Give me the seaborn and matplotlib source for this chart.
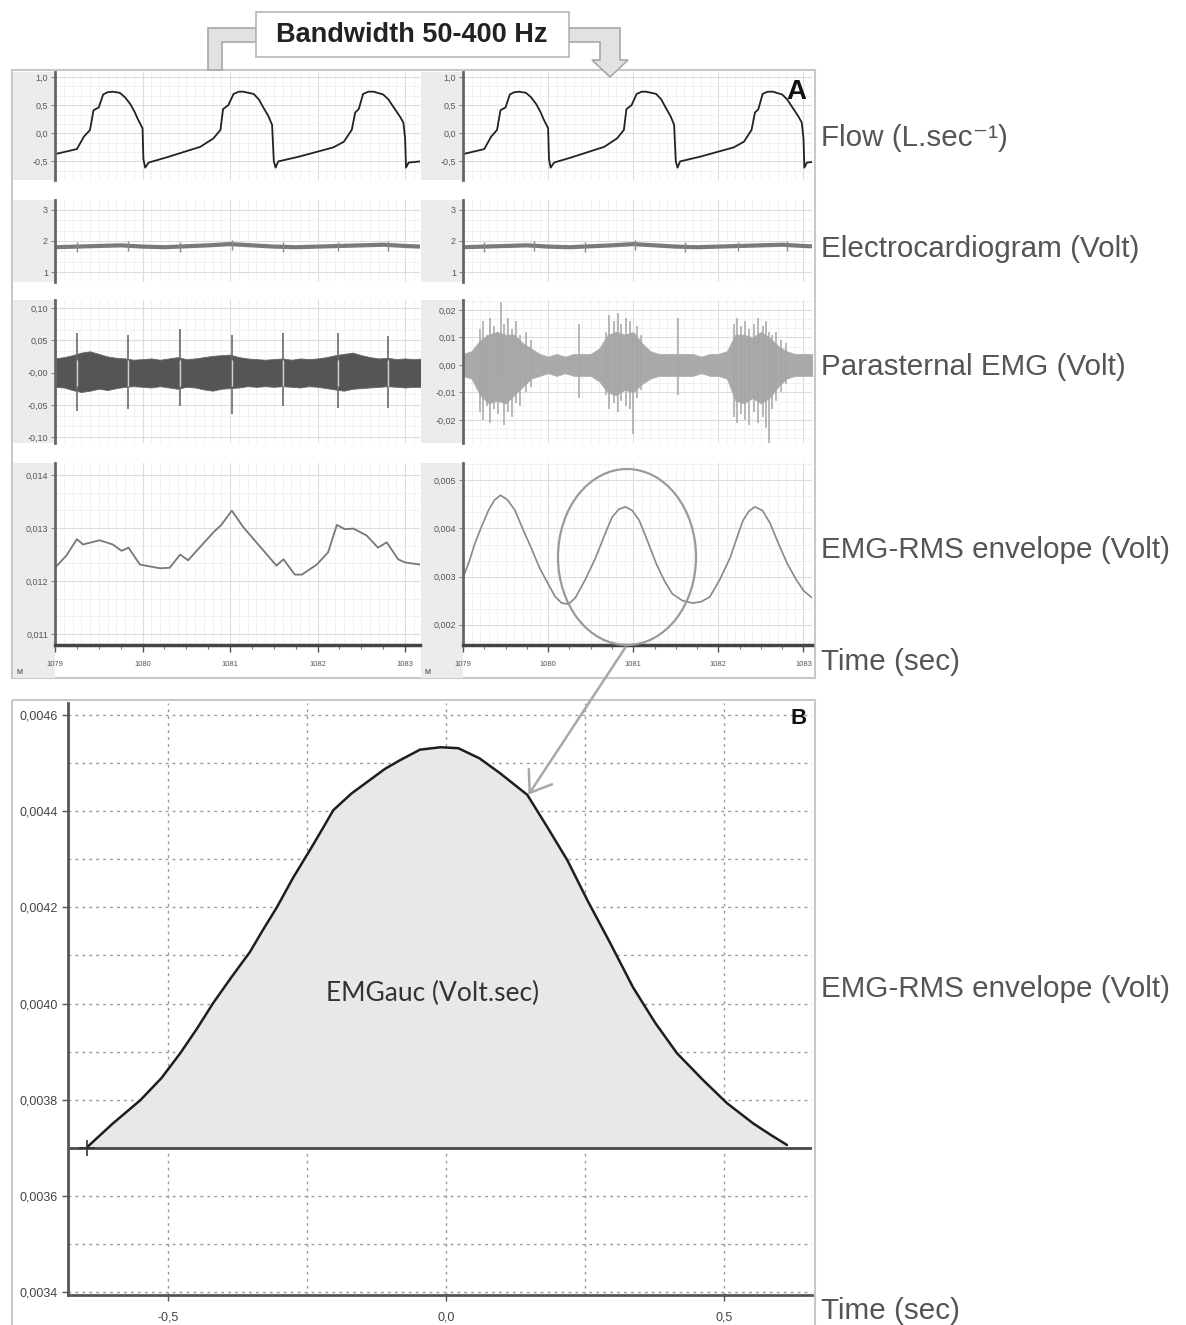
import numpy as np
import matplotlib
matplotlib.use("Agg")
import matplotlib.pyplot as plt
import seaborn as sns
from matplotlib.patches import Rectangle, Polygon, Ellipse, FancyArrowPatch
from matplotlib.ticker import MultipleLocator, AutoMinorLocator, FuncFormatter

# ---- data ----
# flow trace (same signal in both columns)
flow_t = [1079.00, 1079.25, 1079.33, 1079.40, 1079.44, 1079.50, 1079.55, 1079.60, 1079.66, 1079.74,
          1079.80, 1079.86, 1079.91, 1079.95, 1080.00, 1080.01, 1080.03, 1080.07, 1080.27, 1080.66,
          1080.81, 1080.89, 1080.92, 1080.98, 1081.04, 1081.10, 1081.15, 1081.27, 1081.33, 1081.38,
          1081.44, 1081.48, 1081.50, 1081.52, 1081.55, 1081.80, 1082.18, 1082.30, 1082.39, 1082.43,
          1082.47, 1082.52, 1082.58, 1082.64, 1082.75, 1082.81, 1082.87, 1082.94, 1082.98, 1083.00,
          1083.01, 1083.04, 1083.17]
flow_v = [-0.37, -0.28, -0.06, 0.06, 0.41, 0.46, 0.69, 0.73, 0.74, 0.72,
          0.64, 0.52, 0.38, 0.24, 0.09, -0.46, -0.61, -0.52, -0.43, -0.24,
          -0.09, 0.06, 0.43, 0.50, 0.70, 0.74, 0.74, 0.70, 0.60, 0.46,
          0.30, 0.15, -0.50, -0.61, -0.50, -0.41, -0.25, -0.15, 0.06, 0.37,
          0.43, 0.70, 0.74, 0.74, 0.69, 0.60, 0.46, 0.30, 0.19, -0.09,
          -0.61, -0.52, -0.50]

# ECG baseline and beats
ecg_t = [1079.00, 1079.25, 1079.50, 1079.75, 1080.00, 1080.25, 1080.50, 1080.75, 1081.00,
         1081.25, 1081.50, 1081.75, 1082.00, 1082.25, 1082.50, 1082.75, 1083.00, 1083.17]
ecg_v = [1.80, 1.82, 1.84, 1.86, 1.82, 1.80, 1.83, 1.86, 1.90,
         1.86, 1.82, 1.80, 1.82, 1.84, 1.86, 1.88, 1.84, 1.82]
beat_t = [1079.25, 1079.83, 1080.43, 1081.02, 1081.61, 1082.23, 1082.81]
ecg_beat_hi = [1.97, 1.99, 1.96, 2.02, 1.96, 1.97, 1.99]
ecg_beat_lo = [1.66, 1.68, 1.66, 1.70, 1.66, 1.67, 1.69]

# parasternal EMG envelopes every 0.1 s
emg_t = [1079.0, 1079.1, 1079.2, 1079.3, 1079.4, 1079.5, 1079.6, 1079.7, 1079.8, 1079.9,
         1080.0, 1080.1, 1080.2, 1080.3, 1080.4, 1080.5, 1080.6, 1080.7, 1080.8, 1080.9,
         1081.0, 1081.1, 1081.2, 1081.3, 1081.4, 1081.5, 1081.6, 1081.7, 1081.8, 1081.9,
         1082.0, 1082.1, 1082.2, 1082.3, 1082.4, 1082.5, 1082.6, 1082.7, 1082.8, 1082.9,
         1083.0, 1083.1, 1083.2]
emg_l_hi = [0.022, 0.024, 0.027, 0.031, 0.033, 0.029, 0.025, 0.023, 0.022, 0.020,
            0.021, 0.022, 0.020, 0.022, 0.024, 0.021, 0.022, 0.024, 0.026, 0.027,
            0.028, 0.024, 0.022, 0.021, 0.020, 0.021, 0.022, 0.020, 0.022, 0.021,
            0.022, 0.024, 0.027, 0.029, 0.031, 0.027, 0.024, 0.022, 0.023, 0.021,
            0.022, 0.021, 0.022]
emg_l_lo = [-0.022, -0.023, -0.027, -0.030, -0.028, -0.025, -0.027, -0.024, -0.022, -0.021,
            -0.022, -0.023, -0.021, -0.023, -0.025, -0.022, -0.023, -0.026, -0.028, -0.025,
            -0.024, -0.023, -0.021, -0.022, -0.021, -0.022, -0.021, -0.022, -0.023, -0.021,
            -0.022, -0.024, -0.026, -0.028, -0.025, -0.024, -0.023, -0.022, -0.021, -0.022,
            -0.023, -0.022, -0.022]
emg_l_spk_hi = [0.061, 0.058, 0.067, 0.058, 0.061, 0.061, 0.056]
emg_l_spk_lo = [-0.059, -0.056, -0.052, -0.064, -0.052, -0.055, -0.055]

emg_r_hi = [0.004, 0.005, 0.009, 0.011, 0.012, 0.011, 0.011, 0.008, 0.006, 0.004,
            0.003, 0.004, 0.003, 0.004, 0.004, 0.004, 0.006, 0.011, 0.012, 0.011,
            0.012, 0.008, 0.005, 0.004, 0.004, 0.004, 0.004, 0.004, 0.003, 0.004,
            0.004, 0.005, 0.011, 0.011, 0.010, 0.012, 0.010, 0.007, 0.005, 0.004,
            0.004, 0.004, 0.004]
emg_r_lo = [-0.004, -0.005, -0.011, -0.014, -0.013, -0.014, -0.011, -0.008, -0.005, -0.004,
            -0.003, -0.004, -0.003, -0.004, -0.004, -0.004, -0.006, -0.010, -0.011, -0.009,
            -0.010, -0.007, -0.005, -0.004, -0.004, -0.004, -0.004, -0.004, -0.003, -0.004,
            -0.004, -0.005, -0.013, -0.014, -0.012, -0.014, -0.012, -0.008, -0.005, -0.004,
            -0.004, -0.004, -0.004]
# single tall deflections inside the right-hand EMG bursts
emg_r_spk_t = [1079.20, 1079.24, 1079.28, 1079.32, 1079.36, 1079.41, 1079.45, 1079.48, 1079.53,
               1079.57, 1079.62, 1079.67, 1079.74, 1079.80, 1080.36,
               1080.68, 1080.72, 1080.77, 1080.82, 1080.86, 1080.92, 1080.96, 1081.00, 1081.04,
               1081.09, 1081.52,
               1082.18, 1082.22, 1082.27, 1082.31, 1082.36, 1082.42, 1082.47, 1082.52, 1082.56,
               1082.60, 1082.63, 1082.68, 1082.74, 1082.80]
emg_r_spk_hi = [0.013, 0.016, 0.011, 0.017, 0.014, 0.012, 0.023, 0.015, 0.017,
                0.013, 0.016, 0.011, 0.012, 0.009, 0.015,
                0.012, 0.018, 0.016, 0.019, 0.015, 0.017, 0.016, 0.010, 0.014,
                0.011, 0.017,
                0.015, 0.017, 0.014, 0.016, 0.013, 0.015, 0.017, 0.014, 0.016,
                0.012, 0.011, 0.012, 0.009, 0.008]
emg_r_spk_lo = [-0.017, -0.020, -0.015, -0.021, -0.016, -0.018, -0.005, -0.022, -0.017,
                -0.019, -0.014, -0.015, -0.010, -0.008, -0.012,
                -0.011, -0.016, -0.014, -0.017, -0.013, -0.015, -0.016, -0.025, -0.012,
                -0.009, -0.011,
                -0.019, -0.021, -0.018, -0.020, -0.022, -0.017, -0.021, -0.019, -0.023,
                -0.029, -0.016, -0.013, -0.010, -0.007]

# EMG-RMS envelopes
rms_l_t = [1079.00, 1079.13, 1079.25, 1079.32, 1079.51, 1079.66, 1079.76, 1079.84, 1079.97, 1080.20,
           1080.31, 1080.43, 1080.52, 1080.81, 1080.90, 1081.02, 1081.15, 1081.53, 1081.61, 1081.74,
           1081.82, 1081.99, 1082.12, 1082.22, 1082.31, 1082.41, 1082.56, 1082.69, 1082.79, 1082.92,
           1083.00, 1083.17]
rms_l_v = [0.01225, 0.01248, 0.01279, 0.01269, 0.01277, 0.01269, 0.01257, 0.01263, 0.01231, 0.01224,
           0.01225, 0.01250, 0.01239, 0.01292, 0.01306, 0.01333, 0.01302, 0.01229, 0.01241, 0.01212,
           0.01212, 0.01231, 0.01254, 0.01306, 0.01298, 0.01299, 0.01286, 0.01263, 0.01273, 0.01241,
           0.01235, 0.01231]
rms_r_t = [1079.00, 1079.07, 1079.14, 1079.22, 1079.30, 1079.37, 1079.44, 1079.52, 1079.61, 1079.70,
           1079.80, 1079.90, 1080.00, 1080.08, 1080.16, 1080.24, 1080.32, 1080.44, 1080.56, 1080.66,
           1080.75, 1080.83, 1080.91, 1080.99, 1081.07, 1081.17, 1081.27, 1081.37, 1081.46, 1081.58,
           1081.70, 1081.80, 1081.90, 1082.02, 1082.14, 1082.22, 1082.29, 1082.36, 1082.43, 1082.52,
           1082.61, 1082.71, 1082.81, 1082.91, 1083.00, 1083.10]
rms_r_v = [0.00298, 0.00330, 0.00369, 0.00405, 0.00438, 0.00459, 0.00469, 0.00460, 0.00438, 0.00400,
           0.00360, 0.00318, 0.00285, 0.00259, 0.00245, 0.00243, 0.00256, 0.00295, 0.00340, 0.00385,
           0.00423, 0.00440, 0.00445, 0.00437, 0.00417, 0.00373, 0.00327, 0.00290, 0.00264, 0.00250,
           0.00245, 0.00248, 0.00258, 0.00295, 0.00340, 0.00382, 0.00417, 0.00436, 0.00445, 0.00437,
           0.00410, 0.00367, 0.00327, 0.00295, 0.00271, 0.00256]

# panel B: one RMS cycle, time centred on the peak
auc_t = [-0.646, -0.600, -0.550, -0.512, -0.478, -0.448, -0.419, -0.386, -0.353, -0.330,
         -0.304, -0.275, -0.245, -0.222, -0.203, -0.170, -0.137, -0.110, -0.083, -0.047,
         -0.010, 0.022, 0.060, 0.097, 0.146, 0.182, 0.218, 0.254, 0.295, 0.336,
         0.376, 0.415, 0.462, 0.505, 0.552, 0.585, 0.613]
auc_v = [0.003701, 0.003750, 0.003799, 0.003845, 0.003897, 0.003948, 0.004001, 0.004055, 0.004107, 0.004152,
         0.004201, 0.004262, 0.004319, 0.004364, 0.004402, 0.004437, 0.004465, 0.004488, 0.004506, 0.004528,
         0.004533, 0.004531, 0.004510, 0.004479, 0.004434, 0.004367, 0.004298, 0.004215, 0.004126, 0.004034,
         0.003960, 0.003897, 0.003841, 0.003793, 0.003751, 0.003726, 0.003706]
auc_base = 0.0037

time_ticks = [1079, 1080, 1081, 1082, 1083]
time_labels = ["1079", "1080", "1081", "1082", "1083"]

# ---- figure ----
sns.set_style("white")
plt.rcParams['font.family'] = ['Liberation Sans', 'DejaVu Sans']

W, H = 1186, 1325
fig = plt.figure(figsize=(W / 100, H / 100), dpi=100)


def box(x0, y0, x1, y1, **kw):
    return fig.add_axes([x0 / W, 1 - y1 / H, (x1 - x0) / W, (y1 - y0) / H], **kw)


def comma(fmt):
    return FuncFormatter(lambda v, p: fmt.format(v).replace('.', ','))


bg = box(0, 0, W, H, zorder=0)
bg.set_xlim(0, W)
bg.set_ylim(H, 0)
bg.axis('off')
bg.add_patch(Rectangle((12, 70), 803, 608, fill=False, ec='#c8c8c8', lw=1.5))
bg.add_patch(Rectangle((12, 700), 803, 640, fill=False, ec='#c8c8c8', lw=1.5))
for xa, xb in [(13, 55), (421, 463)]:
    for ya, yb in [(72, 180), (200, 282), (300, 443), (463, 678)]:
        bg.add_patch(Rectangle((xa, ya), xb - xa, yb - ya, fc='#ececec', ec='none'))

panel_rows = [(72, 180), (200, 282), (300, 443), (463, 645)]


def trace_axes(x0, x1, rows, xlim, ylim, yticks, ylabels):
    ax = box(x0, rows[0], x1, rows[1], zorder=2)
    ax.set_xlim(*xlim)
    ax.set_ylim(*ylim)
    ax.set_yticks(yticks)
    ax.set_yticklabels(ylabels)
    ax.set_xticks(time_ticks)
    ax.set_xticklabels([])
    ax.xaxis.set_minor_locator(MultipleLocator(0.1))
    ax.yaxis.set_minor_locator(AutoMinorLocator(3))
    ax.set_axisbelow(True)
    ax.grid(which='major', color='#dcdcdc', lw=0.8)
    ax.grid(which='minor', color='#efefef', lw=0.6)
    for s in ['top', 'right', 'bottom']:
        ax.spines[s].set_visible(False)
    ax.spines['left'].set_color('#666')
    ax.spines['left'].set_linewidth(2)
    ax.tick_params(axis='y', which='major', left=True, length=3, width=0.8, color='#888',
                   labelsize=6.5, labelcolor='#555', pad=2)
    ax.tick_params(axis='y', which='minor', left=False)
    ax.tick_params(axis='x', which='both', bottom=False, length=0)
    ax.set_xlabel('')
    ax.set_ylabel('')
    return ax


columns = [
    dict(x0=55, x1=420, xlim=(1079.0, 1083.17),
         emg=dict(ylim=(-0.109, 0.1125), ticks=[0.10, 0.05, 0.0, -0.05, -0.10],
                  labels=['0,10', '0,05', '-0,00', '-0,05', '-0,10']),
         rms=dict(ylim=(0.01079, 0.01423), ticks=[0.014, 0.013, 0.012, 0.011],
                  labels=['0,014', '0,013', '0,012', '0,011'])),
    dict(x0=463, x1=812, xlim=(1079.0, 1083.1),
         emg=dict(ylim=(-0.0284, 0.0236), ticks=[0.02, 0.01, 0.0, -0.01, -0.02],
                  labels=['0,02', '0,01', '0,00', '-0,01', '-0,02']),
         rms=dict(ylim=(0.00158, 0.00536), ticks=[0.005, 0.004, 0.003, 0.002],
                  labels=['0,005', '0,004', '0,003', '0,002'])),
]

for ci, col in enumerate(columns):
    x0, x1, xlim = col['x0'], col['x1'], col['xlim']

    ax = trace_axes(x0, x1, panel_rows[0], xlim, (-0.83, 1.09), [1.0, 0.5, 0.0, -0.5],
                    ['1,0', '0,5', '0,0', '-0,5'])
    sns.lineplot(x=flow_t, y=flow_v, ax=ax, color='#222', lw=1.3, sort=False, estimator=None)

    ax = trace_axes(x0, x1, panel_rows[1], xlim, (0.68, 3.32), [3, 2, 1], ['3', '2', '1'])
    sns.lineplot(x=ecg_t, y=ecg_v, ax=ax, color='#7a7a7a', lw=3, sort=False, estimator=None)
    ax.vlines(beat_t, ecg_beat_lo, ecg_beat_hi, color='#8a8a8a', lw=1)

    e = col['emg']
    ax = trace_axes(x0, x1, panel_rows[2], xlim, e['ylim'], e['ticks'], e['labels'])
    if ci == 0:
        ax.fill_between(emg_t, emg_l_lo, emg_l_hi, color='#555555', lw=0.6, ec='#666')
        ax.vlines(beat_t, emg_l_spk_lo, emg_l_spk_hi, color='#6a6a6a', lw=1.2)
        ax.vlines(beat_t, [-0.02] * len(beat_t), [0.02] * len(beat_t), color='#d0d0d0', lw=1)
    else:
        ax.fill_between(emg_t, emg_r_lo, emg_r_hi, color='#a9a9a9', lw=0.6, ec='#b0b0b0')
        ax.vlines(emg_r_spk_t, emg_r_spk_lo, emg_r_spk_hi, color='#a6a6a6', lw=1.1)

    r = col['rms']
    ax = trace_axes(x0, x1, panel_rows[3], xlim, r['ylim'], r['ticks'], r['labels'])
    if ci == 0:
        sns.lineplot(x=rms_l_t, y=rms_l_v, ax=ax, color='#777', lw=1.3, sort=False, estimator=None)
    else:
        sns.lineplot(x=rms_r_t, y=rms_r_v, ax=ax, color='#888', lw=1.2, sort=False, estimator=None)

    tx = box(x0, 645, x1, 657, zorder=2)
    tx.set_xlim(*xlim)
    tx.set_yticks([])
    for s in ['left', 'right', 'bottom']:
        tx.spines[s].set_visible(False)
    tx.spines['top'].set_color('#444')
    tx.spines['top'].set_linewidth(2.5)
    tx.set_xticks(time_ticks)
    tx.set_xticklabels(time_labels)
    tx.xaxis.set_minor_locator(MultipleLocator(0.25))
    tx.tick_params(axis='x', which='major', top=True, bottom=False, direction='in', length=5,
                   width=1, color='#555', labelsize=5.5, labelcolor='#555', pad=3)
    tx.tick_params(axis='x', which='minor', top=True, bottom=False, direction='in', length=3,
                   width=0.8, color='#777')

# ---- panel B ----
axb = box(68, 703, 812, 1295, zorder=2)
axb.set_xlim(-0.68, 0.658)
axb.set_ylim(0.003394, 0.004625)
axb.fill_between(auc_t, auc_base, auc_v, color='#e8e8e8', lw=0)
sns.lineplot(x=auc_t, y=auc_v, ax=axb, color='#1e1e1e', lw=1.8, sort=False, estimator=None)
axb.axhline(auc_base, color='#4a4a4a', lw=2)
axb.plot([auc_t[0]], [auc_base], marker='+', ms=12, mew=1.2, color='#333')
axb.set_xticks([-0.5, 0.0, 0.5])
axb.xaxis.set_minor_locator(MultipleLocator(0.25))
axb.set_yticks(np.round(np.arange(0.0034, 0.00461, 0.0002), 4))
axb.yaxis.set_minor_locator(MultipleLocator(0.0001))
axb.xaxis.set_major_formatter(comma('{:.1f}'))
axb.yaxis.set_major_formatter(comma('{:.4f}'))
axb.set_axisbelow(True)
axb.grid(which='both', axis='both', color='#9a9a9a', lw=1, linestyle=(0, (2, 3)))
for s in ['top', 'right']:
    axb.spines[s].set_visible(False)
for s in ['left', 'bottom']:
    axb.spines[s].set_color('#555')
    axb.spines[s].set_linewidth(2)
axb.tick_params(axis='both', which='major', left=True, bottom=True, length=4, width=1,
                color='#555', labelsize=9, labelcolor='#444')
axb.tick_params(axis='x', which='major', pad=8)
axb.tick_params(axis='both', which='minor', left=False, bottom=False)
axb.set_xlabel('')
axb.set_ylabel('')
axb.text(-0.025, 0.004022, 'EMGauc (Volt.sec)', ha='center', va='center', fontsize=19,
         color='#333', family=['Lato', 'DejaVu Sans'])

# ---- annotations ----
fg = box(0, 0, W, H, zorder=5)
fg.set_xlim(0, W)
fg.set_ylim(H, 0)
fg.axis('off')
fg.patch.set_alpha(0)

fg.add_patch(Polygon([(256, 28), (208, 28), (208, 70), (222, 70), (222, 42), (256, 42)],
                     closed=True, fc='#e2e2e2', ec='#a8a8a8', lw=1.2))
fg.add_patch(Polygon([(569, 28), (620, 28), (620, 60), (628, 60), (610, 77), (592, 60),
                      (600, 60), (600, 42), (569, 42)], closed=True, fc='#e2e2e2', ec='#a8a8a8', lw=1.2))
fg.add_patch(Rectangle((256, 12), 313, 45, fc='white', ec='#b5b5b5', lw=1.2))
fg.text(412, 35, 'Bandwidth 50-400 Hz', ha='center', va='center', fontsize=19.5,
        fontweight='bold', color='#222')

fg.add_patch(Ellipse((627, 557), 138, 176, fill=False, ec='#9a9a9a', lw=1.6))
fg.add_patch(FancyArrowPatch((627, 645), (527, 797), arrowstyle='->,head_length=7,head_width=5',
                             color='#a8a8a8', lw=1.8, mutation_scale=2))

fg.text(796, 92, 'A', ha='center', va='center', fontsize=20, fontweight='bold', color='#111')
fg.text(799, 719, 'B', ha='center', va='center', fontsize=16, fontweight='bold', color='#111')
fg.text(16, 672, 'M', fontsize=5, color='#333', va='center')
fg.text(424, 672, 'M', fontsize=5, color='#333', va='center')

side_labels = [(138, 'Flow (L.sec\u207b\u00b9)'), (249, 'Electrocardiogram (Volt)'),
               (367, 'Parasternal EMG (Volt)'), (550, 'EMG-RMS envelope (Volt)'),
               (662, 'Time (sec)'), (989, 'EMG-RMS envelope (Volt)'), (1311, 'Time (sec)')]
for y, lab in side_labels:
    fg.text(821, y, lab, ha='left', va='center', fontsize=21.3, color='#555')

fig.savefig('out.png', dpi=100)
